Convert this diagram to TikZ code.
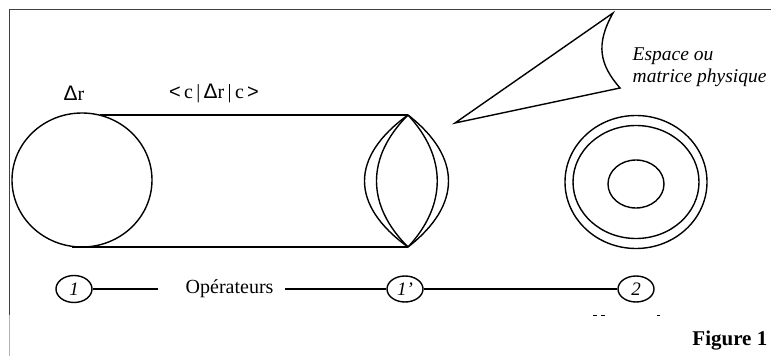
\documentclass[tikz,border=0pt]{standalone}
\usepackage{fontspec}
\setmainfont{Liberation Serif}
\newfontfamily\symfont{Liberation Sans}
\usetikzlibrary{positioning,shapes.geometric}

\begin{document}
\begin{tikzpicture}[x=1pt, y=-1pt, line width=1.4pt,
  every node/.style={align=center, inner sep=0pt},
  ring/.style={draw, ellipse, line width=1.4pt},
  tag/.style={draw, ellipse, minimum width=36pt, minimum height=26pt,
              font=\fontsize{19}{19}\selectfont\itshape},
  lbl/.style={font=\fontsize{20}{22}\selectfont}]
\useasboundingbox (0,0) rectangle (771,356);
% frame
\draw[line width=1pt, black!75] (771,9) -- (9,9) -- (9,315);
\draw[line width=0.6pt, black!30] (9,315) -- (9,356);
% cylinder
\node[ring, minimum width=140pt, minimum height=134pt] (disk) at (82,180) {};
\coordinate (diskTop) at (100,115);
\coordinate (diskBot) at (72,247);
\coordinate (lensTop) at (408,115);
\coordinate (lensBot) at (408,247);
\draw (diskTop) -- (lensTop);
\draw (diskBot) -- (lensBot);
\draw (lensTop) .. controls (350,157) and (350,205) .. (lensBot);
\draw (lensTop) .. controls (366,157) and (366,205) .. (lensBot);
\draw (lensTop) .. controls (447,157) and (447,205) .. (lensBot);
\draw (lensTop) .. controls (462,157) and (462,205) .. (lensBot);
\node[lbl] (dr) at (74,93) {{\symfont\fontsize{21}{21}\selectfont Δ}r};
\node[lbl] (mel) at (214,93) {{\symfont<}\,c\,|\,{\symfont\fontsize{21}{21}\selectfont Δ}r\,|\,c\,{\symfont>}};
% space wedge
\coordinate (wTip) at (455,123);
\coordinate (wTop) at (613,13);
\coordinate (wLow) at (620,88);
\draw[line join=miter] (wTip) -- (wTop) .. controls (595,45) and (600,65) .. (wLow) -- cycle;
\node[lbl, font=\fontsize{19.5}{22}\selectfont\itshape, align=left, anchor=north west] (esp)
  at (632,47) {Espace ou\\matrice physique};
% rings
\node[ring, minimum width=142pt, minimum height=133pt] (r1) at (636,182) {};
\node[ring, minimum width=126pt, minimum height=113pt] (r2) at (636,182) {};
\node[ring, minimum width=56pt, minimum height=48pt] (r3) at (636,184) {};
% bottom row
\node[tag, minimum height=27pt] (n1) at (74,289) {1};
\node[tag] (n1p) at (405,289) {1’};
\node[tag] (n2) at (636,289) {2};
\node[lbl, anchor=west] (ops) at (185,289) {Opérateurs};
\draw (n1) -- ([xshift=-27pt]ops.west);
\draw ([xshift=11pt]ops.east) -- (n1p);
\draw (n1p) -- (n2);
\draw[line width=1pt] (593,315) -- (597,315) (601,315) -- (605,315) (657,315) -- (660,315);
\node[font=\fontsize{21}{21}\selectfont\bfseries, anchor=east] (fig) at (768,341) {Figure 1};
\end{tikzpicture}
\end{document}
